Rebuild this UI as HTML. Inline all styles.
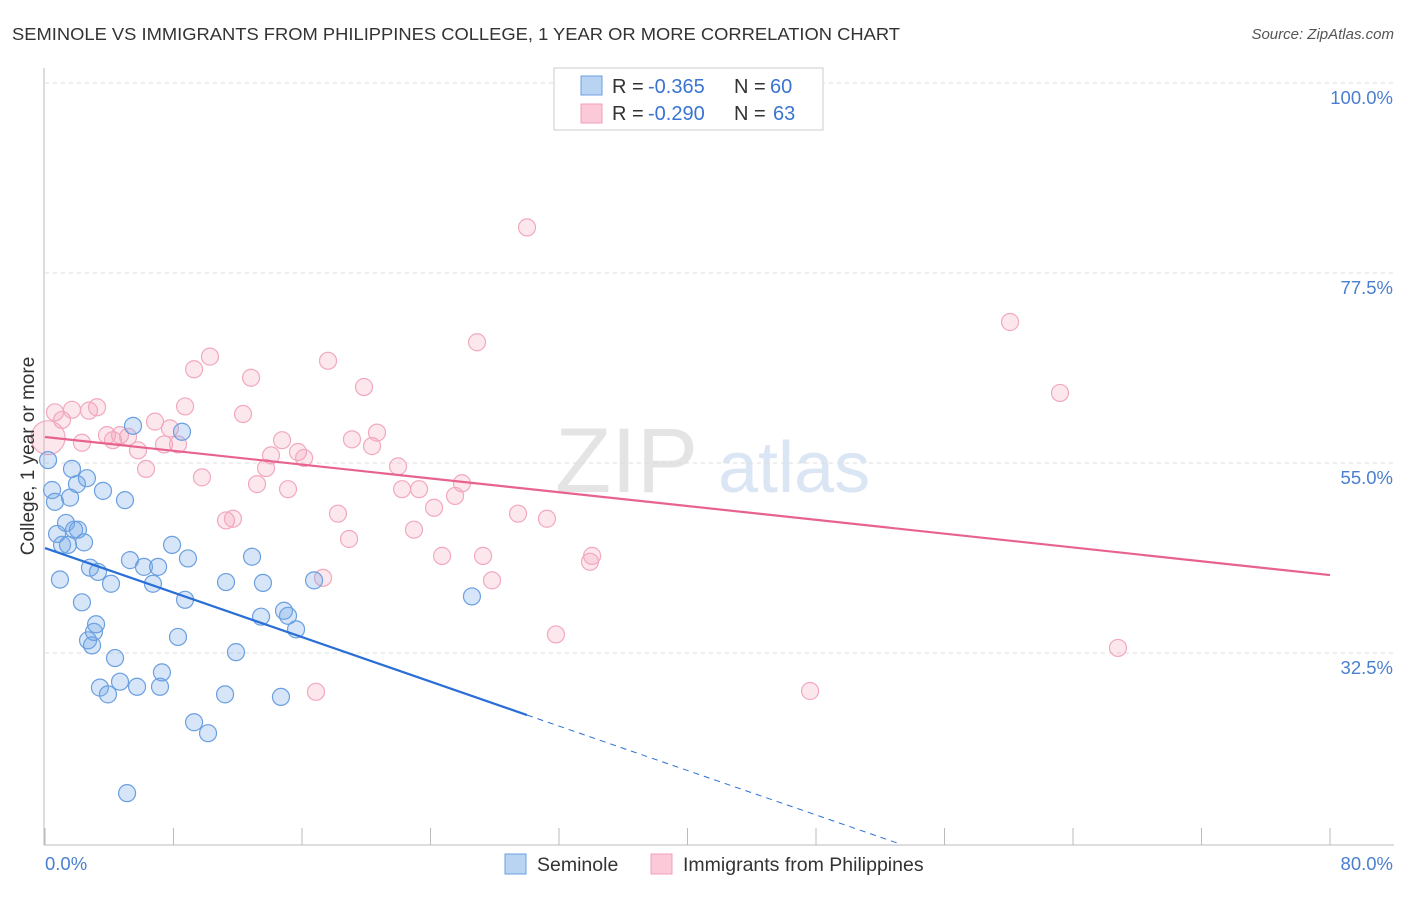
<!DOCTYPE html>
<html><head><meta charset="utf-8"><style>
body{margin:0;background:#fff;font-family:"Liberation Sans",sans-serif;}
svg text{font-family:"Liberation Sans",sans-serif;}
</style></head><body>
<svg id="chart" width="1406" height="892">
<text x="12" y="40" font-size="17.5" fill="#333" textLength="888" lengthAdjust="spacingAndGlyphs">SEMINOLE VS IMMIGRANTS FROM PHILIPPINES COLLEGE, 1 YEAR OR MORE CORRELATION CHART</text>
<text x="1394" y="39" font-size="15" fill="#555" text-anchor="end" font-style="italic">Source: ZipAtlas.com</text>
<g>
<text x="555" y="492" font-size="92" fill="#e4e4e4" font-family="Liberation Serif,serif">ZIP</text>
<text x="718" y="492" font-size="72" fill="#dbe6f4">atlas</text>
</g>
<g id="grid"></g>
<g id="axes"></g>
<g id="marks"></g>
<text x="34" y="456" font-size="19" fill="#333" text-anchor="middle" transform="rotate(-90 34 456)">College, 1 year or more</text>
<text x="45" y="870" font-size="18.5" fill="#4a7fd0">0.0%</text>
<text x="1393" y="870" font-size="18.5" fill="#4a7fd0" text-anchor="end">80.0%</text>
<g>
<rect x="554" y="68" width="269" height="62" fill="#fff" stroke="#ccc"/>
<rect x="581" y="76" width="21" height="19" fill="#b9d3f3" stroke="#6a9fe0"/>
<rect x="581" y="104" width="21" height="19" fill="#fbc9d7" stroke="#f0a0b8"/>
<text x="612" y="93" font-size="20" fill="#333">R =</text>
<text x="648" y="93" font-size="20" fill="#3a74d0">-0.365</text>
<text x="734" y="93" font-size="20" fill="#333">N =</text>
<text x="770" y="93" font-size="20" fill="#3a74d0">60</text>
<text x="612" y="120" font-size="20" fill="#333">R =</text>
<text x="648" y="120" font-size="20" fill="#3a74d0">-0.290</text>
<text x="734" y="120" font-size="20" fill="#333">N =</text>
<text x="773" y="120" font-size="20" fill="#3a74d0">63</text>
</g>
<g>
<rect x="505" y="854" width="21" height="20" fill="#b9d3f3" stroke="#6a9fe0"/>
<text x="537" y="871" font-size="19.5" fill="#333">Seminole</text>
<rect x="651" y="854" width="21" height="20" fill="#fbc9d7" stroke="#f0a0b8"/>
<text x="683" y="871" font-size="19.5" fill="#333">Immigrants from Philippines</text>
</g>
</svg>
<script>
const yTicks=[100,77.5,55,32.5];
const yTickLabels=["100.0%","77.5%","55.0%","32.5%"];
const xTicks=[0,8,16,24,32,40,48,56,64,72,80];
const blueX=[0.19,0.44,0.62,0.75,0.93,1.06,1.31,1.43,1.56,1.68,1.81,1.99,2.05,2.30,2.43,2.61,2.68,2.80,2.93,3.05,3.18,3.30,3.42,3.61,3.92,4.11,4.36,4.67,4.98,5.11,5.29,5.48,5.73,6.16,6.72,7.04,7.16,7.28,7.91,8.28,8.53,8.72,8.90,9.28,10.15,11.21,11.27,11.89,12.89,13.45,13.57,14.69,14.88,15.13,15.63,16.75,26.58];
const blueY=[55.35,51.8,50.4,46.6,41.2,45.3,47.9,45.3,50.9,54.3,47.1,52.5,47.1,38.5,45.6,53.2,34.0,42.6,33.4,35.0,35.9,42.1,28.4,51.7,27.6,40.7,31.9,29.1,50.6,15.9,43.5,59.4,28.5,42.7,40.7,42.7,28.5,30.2,45.3,34.4,58.7,38.8,43.7,24.3,23.0,27.6,40.9,32.6,43.9,36.8,40.8,27.3,37.5,36.9,35.3,41.1,39.2];
const pinkX=[0.19,0.62,1.06,1.68,2.30,2.74,3.24,3.86,4.23,4.67,5.17,5.79,6.29,6.85,7.41,7.78,8.28,8.72,9.28,9.77,10.27,11.27,11.70,12.33,12.83,13.20,13.76,14.07,14.76,15.13,15.75,16.13,16.87,17.31,17.62,18.24,18.93,19.11,19.86,20.36,20.67,21.98,22.23,22.97,23.29,24.22,24.72,25.53,25.96,26.90,27.27,27.83,29.45,30.01,31.25,31.81,33.93,34.06,47.63,60.08,63.19,66.80];
const pinkY=[58.0,61.0,60.1,61.3,57.4,61.2,61.6,58.3,57.7,58.3,58.1,56.5,54.3,59.9,57.2,59.1,57.2,61.7,66.1,53.3,67.6,48.2,48.4,60.8,65.1,52.5,54.4,55.9,57.7,51.9,56.3,55.6,27.9,41.4,67.1,49.0,46.0,57.8,64.0,57.0,58.6,54.6,51.9,47.1,51.9,49.7,44.0,51.1,52.6,69.3,44.0,41.1,49.0,82.9,48.4,34.7,43.3,44.0,28.0,71.7,63.3,33.1];
const pinkTrend=[[0,58.08],[80,41.73]];
const blueTrend=[[0,44.93],[30.01,25.15]];
const blueTrendExt=[[30.01,25.15],[53.05,10.0]];
const NS='http://www.w3.org/2000/svg';
function sx(v){return 45+v/80*1285;}
function sy(v){return 463-(v-55)*8.444;}
function mk(t,a,p){const e=document.createElementNS(NS,t);for(const k in a)e.setAttribute(k,a[k]);p.appendChild(e);return e;}
const grid=document.getElementById('grid'),axes=document.getElementById('axes'),marks=document.getElementById('marks');
yTicks.forEach((v,i)=>{
 const l=mk('line',{x1:45,x2:1394,y1:sy(v),y2:sy(v),stroke:'#ddd','stroke-dasharray':'4 4'},grid);
 
 
 const t=mk('text',{x:1393,y:sy(v)+21,'font-size':18.5,fill:'#4a7fd0','text-anchor':'end'},grid);
 t.textContent=yTickLabels[i];
 
 
});
mk('line',{x1:44,x2:44,y1:68,y2:845,stroke:'#bbb'},axes);
mk('line',{x1:44,x2:1394,y1:845,y2:845,stroke:'#bbb'},axes);
xTicks.forEach(v=>{
 const l=mk('line',{x1:sx(v),x2:sx(v),y1:828,y2:845,stroke:'#bbb'},axes);
 
 
});
pinkX.forEach((x,i)=>{
 const c=mk('circle',{cx:sx(x),cy:sy(pinkY[i]),r:i==0?17:8.5,fill:'rgba(244,160,185,0.25)',stroke:'#f2a8bf','stroke-width':1.2},marks);
 
 
});
blueX.forEach((x,i)=>{
 const c=mk('circle',{cx:sx(x),cy:sy(blueY[i]),r:8.5,fill:'rgba(120,168,232,0.3)',stroke:'#6a9fe0','stroke-width':1.2},marks);
 
 
});
let l=mk('line',{x1:sx(pinkTrend[0][0]),y1:sy(pinkTrend[0][1]),x2:sx(pinkTrend[1][0]),y2:sy(pinkTrend[1][1]),stroke:'#e8628e','stroke-width':2.2},marks);


l=mk('line',{x1:sx(blueTrend[0][0]),y1:sy(blueTrend[0][1]),x2:sx(blueTrend[1][0]),y2:sy(blueTrend[1][1]),stroke:'#2a6fd6','stroke-width':2.2},marks);


l=mk('line',{x1:sx(blueTrendExt[0][0]),y1:sy(blueTrendExt[0][1]),x2:sx(blueTrendExt[1][0]),y2:sy(blueTrendExt[1][1]),stroke:'#2a6fd6','stroke-width':1,'stroke-dasharray':'6 5'},marks);


</script>
</body></html>
